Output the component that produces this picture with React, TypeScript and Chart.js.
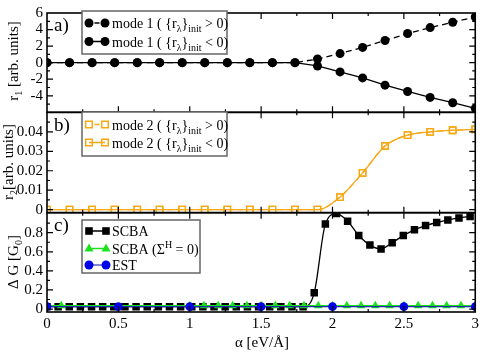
import React, { useEffect, useRef } from 'react';
import { Chart, registerables } from 'chart.js';

Chart.register(...registerables);

const SERIF = '"Liberation Serif", "Times New Roman", serif';

// ---- data ----
const ALPHA_MODE = [0, 0.158, 0.316, 0.474, 0.632, 0.789, 0.947, 1.105, 1.263, 1.421, 1.579, 1.737, 1.895, 2.053, 2.211, 2.368, 2.526, 2.684, 2.842, 3.0];
const MODE1_POS = [0, 0, 0, 0, 0, 0, 0, 0, 0, 0, 0, 0, 0.44, 1.1, 1.84, 2.68, 3.52, 4.24, 4.88, 5.52];
const MODE1_NEG = [0, 0, 0, 0, 0, 0, 0, 0, 0, 0, 0, 0, -0.4, -1.12, -1.84, -2.72, -3.48, -4.2, -4.84, -5.52];
const MODE2_POS = [0, 0, 0, 0, 0, 0, 0, 0, 0, 0, 0, 0, 0, 0.0065, 0.0189, 0.0327, 0.0383, 0.04, 0.0408, 0.0412];
const MODE2_NEG = [0, 0, 0, 0, 0, 0, 0, 0, 0, 0, 0, 0, 0, 0.0065, 0.0189, 0.0327, 0.0383, 0.04, 0.0408, 0.0412];

const ALPHA_SCBA = [0, 0.078, 0.156, 0.234, 0.312, 0.39, 0.468, 0.546, 0.624, 0.702, 0.78, 0.858, 0.936, 1.014, 1.092, 1.17, 1.248, 1.326, 1.404, 1.482, 1.56, 1.638, 1.716, 1.794, 1.872, 1.95, 2.028, 2.106, 2.184, 2.262, 2.34, 2.418, 2.496, 2.574, 2.652, 2.73, 2.808, 2.886, 2.964];
const SCBA = [0.025, 0.025, 0.025, 0.025, 0.025, 0.025, 0.025, 0.025, 0.025, 0.025, 0.025, 0.025, 0.025, 0.025, 0.025, 0.025, 0.025, 0.025, 0.025, 0.025, 0.025, 0.025, 0.025, 0.025, 0.17, 0.89, 1.0, 0.92, 0.77, 0.67, 0.63, 0.695, 0.77, 0.83, 0.875, 0.906, 0.934, 0.955, 0.97];

const ALPHA_SCBA0 = [0, 0.1, 1.0, 1.1, 1.2, 1.3, 1.4, 1.5, 1.6, 1.7, 1.8, 1.9, 2.0, 2.1, 2.2, 2.3, 2.4, 2.5, 2.6, 2.7, 2.8, 2.9, 3.0];
const SCBA0 = [0.035, 0.035, 0.035, 0.035, 0.035, 0.035, 0.035, 0.035, 0.035, 0.035, 0.035, 0.035, 0.035, 0.035, 0.035, 0.035, 0.035, 0.035, 0.035, 0.035, 0.035, 0.035, 0.035];

const ALPHA_EST = [0, 0.5, 1.0, 1.5, 2.0, 2.5, 3.0];
const EST = [0.025, 0.025, 0.025, 0.025, 0.025, 0.025, 0.025];

// ---- ticks ----
const X_TICKS = [0, 0.5, 1, 1.5, 2, 2.5, 3];
const X_MAJOR = [0.5, 1, 1.5, 2, 2.5];
const X_MINOR = [0.25, 0.75, 1.25, 1.75, 2.25, 2.75];
const YA_TICKS = [-4, -2, 0, 2, 4, 6];
const YA_MAJOR = [-4, -2, 0, 2, 4];
const YA_MINOR = [-5, -3, -1, 1, 3, 5];
const YB_TICKS = [0, 0.01, 0.02, 0.03, 0.04];
const YB_MAJOR = [0, 0.01, 0.02, 0.03, 0.04];
const YB_MINOR = [0.005, 0.015, 0.025, 0.035, 0.045];
const YC_TICKS = [0, 0.2, 0.4, 0.6, 0.8];
const YC_MAJOR = [0, 0.2, 0.4, 0.6, 0.8];
const YC_MINOR = [0.1, 0.3, 0.5, 0.7, 0.9];

const ORANGE = 'rgb(245,168,20)';
const GREEN = 'rgb(30,225,30)';
const BLUE = 'rgb(0,0,235)';
const BLUE_LINE = 'rgb(30,40,170)';

const pairs = (xs: number[], ys: number[]) => xs.map((x, i) => ({ x, y: ys[i] }));

type Run = { t: string; s: number; dy: number };

function runsWidth(ctx: CanvasRenderingContext2D, runs: Run[]) {
  let w = 0;
  for (const r of runs) {
    ctx.font = `${r.s}px ${SERIF}`;
    w += ctx.measureText(r.t).width;
  }
  return w;
}

function drawRuns(ctx: CanvasRenderingContext2D, runs: Run[], x: number, y: number, center: boolean) {
  ctx.textBaseline = 'alphabetic';
  ctx.textAlign = 'left';
  ctx.fillStyle = '#000';
  const w = runsWidth(ctx, runs);
  let cx = center ? x - w / 2 : x;
  for (const r of runs) {
    ctx.font = `${r.s}px ${SERIF}`;
    ctx.fillText(r.t, cx, y + r.dy);
    cx += ctx.measureText(r.t).width;
  }
}

function marker(ctx: CanvasRenderingContext2D, kind: string, x: number, y: number, color: string) {
  ctx.save();
  ctx.setLineDash([]);
  ctx.fillStyle = color;
  ctx.strokeStyle = color;
  ctx.beginPath();
  if (kind === 'circle') {
    ctx.arc(x, y, 4.5, 0, Math.PI * 2);
    ctx.fill();
  } else if (kind === 'square') {
    ctx.rect(x - 3.8, y - 3.8, 7.6, 7.6);
    ctx.fill();
  } else if (kind === 'opensquare') {
    ctx.lineWidth = 1.5;
    ctx.rect(x - 3.3, y - 3.3, 6.6, 6.6);
    ctx.stroke();
  } else if (kind === 'triangle') {
    ctx.moveTo(x, y - 5);
    ctx.lineTo(x + 4.5, y + 3);
    ctx.lineTo(x - 4.5, y + 3);
    ctx.closePath();
    ctx.fill();
  }
  ctx.restore();
}

function legendEntry(ctx: CanvasRenderingContext2D, y: number, x1: number, x2: number, kind: string, color: string, lineColor: string, dashed: boolean, runs: Run[], tx: number) {
  ctx.save();
  ctx.strokeStyle = lineColor;
  ctx.lineWidth = 1.5;
  ctx.beginPath();
  if (dashed) {
    const m = (x1 + x2) / 2;
    ctx.moveTo(m - 2.5, y);
    ctx.lineTo(m + 2.5, y);
  } else {
    ctx.moveTo(x1, y);
    ctx.lineTo(x2, y);
  }
  ctx.stroke();
  ctx.restore();
  marker(ctx, kind, x1, y, color);
  marker(ctx, kind, x2, y, color);
  drawRuns(ctx, runs, tx, y + 5, false);
}

function legendBox(ctx: CanvasRenderingContext2D, l: number, t: number, r: number, b: number) {
  ctx.save();
  ctx.fillStyle = '#fff';
  ctx.fillRect(l, t, r - l, b - t);
  ctx.strokeStyle = '#666';
  ctx.lineWidth = 1.5;
  ctx.strokeRect(l, t, r - l, b - t);
  ctx.restore();
}

const decor = {
  id: 'decor',
  beforeDraw(chart: any) {
    const ctx = chart.ctx;
    ctx.save();
    ctx.fillStyle = '#fff';
    ctx.fillRect(0, 0, chart.width, chart.height);
    ctx.restore();
  },
  afterDraw(chart: any) {
    const ctx: CanvasRenderingContext2D = chart.ctx;
    const xs = chart.scales.x;
    const L = chart.chartArea.left;
    const R = chart.chartArea.right;
    const panels = [
      { s: chart.scales.ya, major: YA_MAJOR, minor: YA_MINOR },
      { s: chart.scales.yb, major: YB_MAJOR, minor: YB_MINOR },
      { s: chart.scales.yc, major: YC_MAJOR, minor: YC_MINOR },
    ];
    ctx.save();
    ctx.strokeStyle = '#000';
    ctx.lineWidth = 1.2;
    ctx.setLineDash([]);
    for (const p of panels) {
      const T = p.s.top;
      const B = p.s.bottom;
      ctx.beginPath();
      for (const v of X_MAJOR) {
        const px = xs.getPixelForValue(v);
        ctx.moveTo(px, T); ctx.lineTo(px, T + 6);
        ctx.moveTo(px, B); ctx.lineTo(px, B - 6);
      }
      for (const v of X_MINOR) {
        const px = xs.getPixelForValue(v);
        ctx.moveTo(px, T); ctx.lineTo(px, T + 3);
        ctx.moveTo(px, B); ctx.lineTo(px, B - 3);
      }
      for (const v of p.major) {
        const py = p.s.getPixelForValue(v);
        ctx.moveTo(L, py); ctx.lineTo(L + 6, py);
        ctx.moveTo(R, py); ctx.lineTo(R - 6, py);
      }
      for (const v of p.minor) {
        const py = p.s.getPixelForValue(v);
        ctx.moveTo(L, py); ctx.lineTo(L + 3, py);
        ctx.moveTo(R, py); ctx.lineTo(R - 3, py);
      }
      ctx.stroke();
    }
    ctx.lineWidth = 1.6;
    for (const p of panels) {
      ctx.strokeRect(L, p.s.top, R - L, p.s.bottom - p.s.top);
    }
    ctx.restore();

    // panel labels
    ctx.save();
    ctx.fillStyle = '#000';
    ctx.font = `19px ${SERIF}`;
    ctx.textAlign = 'left';
    ctx.textBaseline = 'alphabetic';
    ctx.fillText('a)', 54, 31);
    ctx.fillText('b)', 54, 131);
    ctx.fillText('c)', 54, 231);
    ctx.restore();

    // axis titles
    const rot = (runs: Run[], x: number, y: number) => {
      ctx.save();
      ctx.translate(x, y);
      ctx.rotate(-Math.PI / 2);
      drawRuns(ctx, runs, 0, 5, true);
      ctx.restore();
    };
    rot([{ t: 'r', s: 15, dy: 0 }, { t: '1', s: 10, dy: 4 }, { t: ' [arb. units]', s: 15, dy: 0 }], 13, 61);
    rot([{ t: 'r', s: 15, dy: 0 }, { t: '2', s: 10, dy: 4 }, { t: '[arb. units]', s: 15, dy: 0 }], 8, 162);
    rot([{ t: 'Δ G [G', s: 15, dy: 0 }, { t: '0', s: 10, dy: 4 }, { t: ']', s: 15, dy: 0 }], 13, 262);
    drawRuns(ctx, [{ t: 'α [eV/Å]', s: 15, dy: 0 }], 262, 347, true);

    // legends
    const mode = (n: string, op: string): Run[] => [
      { t: `mode ${n} ( {r`, s: 14, dy: 0 },
      { t: 'λ', s: 10, dy: 4 },
      { t: '}', s: 14, dy: 0 },
      { t: 'init', s: 10, dy: 4 },
      { t: ` ${op} 0)`, s: 14, dy: 0 },
    ];
    legendBox(ctx, 82, 11, 227, 54);
    legendEntry(ctx, 23, 89, 105, 'circle', '#000', '#000', true, mode('1', '>'), 112);
    legendEntry(ctx, 41.5, 89, 105, 'circle', '#000', '#000', false, mode('1', '<'), 112);

    legendBox(ctx, 82, 112, 227, 156);
    legendEntry(ctx, 124.5, 89, 105, 'opensquare', ORANGE, ORANGE, true, mode('2', '>'), 112);
    legendEntry(ctx, 142.5, 89, 105, 'opensquare', ORANGE, ORANGE, false, mode('2', '<'), 112);

    legendBox(ctx, 82, 220, 200, 273);
    legendEntry(ctx, 231, 89, 106, 'square', '#000', '#000', false, [{ t: 'SCBA', s: 14, dy: 0 }], 112);
    legendEntry(ctx, 248.5, 89, 106, 'triangle', GREEN, GREEN, false, [{ t: 'SCBA (Σ', s: 14, dy: 0 }, { t: 'H', s: 10, dy: -6 }, { t: ' = 0)', s: 14, dy: 0 }], 112);
    legendEntry(ctx, 265, 89, 106, 'circle', BLUE, 'rgb(90,90,200)', false, [{ t: 'EST', s: 14, dy: 0 }], 112);
  },
};

function yScale(weight: number, stackWeight: number, min: number, max: number, ticks: number[]) {
  return {
    type: 'linear',
    position: 'left',
    stack: 'panels',
    stackWeight,
    weight,
    min,
    max,
    grid: { display: false, drawTicks: false },
    border: { display: false },
    ticks: {
      color: '#000',
      padding: 4,
      autoSkip: false,
      font: { family: SERIF, size: 15 },
      callback: (v: number) => String(v),
    },
    afterBuildTicks: (s: any) => {
      s.ticks = ticks.map((v) => ({ value: v }));
    },
    afterFit: (s: any) => {
      s.width = 47;
    },
  };
}

export default function App() {
  const ref = useRef<HTMLCanvasElement | null>(null);
  useEffect(() => {
    if (!ref.current) return;
    const chart = new Chart(ref.current, {
      type: 'line',
      data: {
        datasets: [
          {
            label: 'mode 1 (>0)',
            data: pairs(ALPHA_MODE, MODE1_POS),
            yAxisID: 'ya',
            borderColor: '#000',
            backgroundColor: '#000',
            borderWidth: 1.3,
            borderDash: [6, 4],
            pointStyle: 'circle',
            pointRadius: 4.5,
            pointBorderWidth: 0,
            tension: 0,
          },
          {
            label: 'mode 1 (<0)',
            data: pairs(ALPHA_MODE, MODE1_NEG),
            yAxisID: 'ya',
            borderColor: '#000',
            backgroundColor: '#000',
            borderWidth: 1.3,
            pointStyle: 'circle',
            pointRadius: 4.5,
            pointBorderWidth: 0,
            tension: 0,
          },
          {
            label: 'mode 2 (>0)',
            data: pairs(ALPHA_MODE, MODE2_POS),
            yAxisID: 'yb',
            borderColor: ORANGE,
            backgroundColor: 'rgba(0,0,0,0)',
            borderWidth: 1.3,
            borderDash: [6, 4],
            pointStyle: 'rect',
            pointRadius: 4.6,
            pointBorderWidth: 1.3,
            pointBorderColor: ORANGE,
            cubicInterpolationMode: 'monotone',
          },
          {
            label: 'mode 2 (<0)',
            data: pairs(ALPHA_MODE, MODE2_NEG),
            yAxisID: 'yb',
            borderColor: ORANGE,
            backgroundColor: 'rgba(0,0,0,0)',
            borderWidth: 1.3,
            pointStyle: 'rect',
            pointRadius: 4.6,
            pointBorderWidth: 1.3,
            pointBorderColor: ORANGE,
            cubicInterpolationMode: 'monotone',
          },
          {
            label: 'SCBA',
            data: pairs(ALPHA_SCBA, SCBA),
            yAxisID: 'yc',
            order: 2,
            borderColor: '#000',
            backgroundColor: '#000',
            borderWidth: 1.3,
            pointStyle: 'rect',
            pointRadius: 5.3,
            pointBorderWidth: 0,
            cubicInterpolationMode: 'monotone',
          },
          {
            label: 'SCBA (ΣH = 0)',
            data: pairs(ALPHA_SCBA0, SCBA0),
            yAxisID: 'yc',
            order: 1,
            borderColor: GREEN,
            backgroundColor: GREEN,
            borderWidth: 1.3,
            pointStyle: 'triangle',
            pointRadius: 5,
            pointBorderWidth: 0,
            tension: 0,
          },
          {
            label: 'EST',
            data: pairs(ALPHA_EST, EST),
            yAxisID: 'yc',
            order: 0,
            borderColor: BLUE_LINE,
            backgroundColor: BLUE,
            borderWidth: 1.3,
            pointStyle: 'circle',
            pointRadius: 4.3,
            pointBorderWidth: 0,
            tension: 0,
          },
        ],
      },
      options: {
        responsive: false,
        devicePixelRatio: 1,
        animation: false,
        events: [],
        layout: { padding: { top: 11, right: 5, left: 0, bottom: 0 } },
        plugins: { legend: { display: false }, tooltip: { enabled: false } },
        scales: {
          x: {
            type: 'linear',
            position: 'bottom',
            min: 0,
            max: 3,
            grid: { display: false, drawTicks: false },
            border: { display: false },
            ticks: {
              color: '#000',
              padding: 3,
              maxRotation: 0,
              autoSkip: false,
              font: { family: SERIF, size: 15 },
              callback: (v: number) => String(v),
            },
            afterBuildTicks: (s: any) => {
              s.ticks = X_TICKS.map((v) => ({ value: v }));
            },
            afterFit: (s: any) => {
              s.height = 40;
            },
          },
          ya: yScale(3, 100, -6, 6, YA_TICKS),
          yb: yScale(2, 101, -0.00153, 0.05, YB_TICKS),
          yc: yScale(1, 100, -0.031, 1.01, YC_TICKS),
        } as any,
      },
      plugins: [decor],
    } as any);
    return () => chart.destroy();
  }, []);
  return (
    <div style={{ position: 'absolute', left: 0, top: 0, width: 482, height: 352 }}>
      <canvas ref={ref} width={482} height={352} style={{ display: 'block' }} />
    </div>
  );
}
